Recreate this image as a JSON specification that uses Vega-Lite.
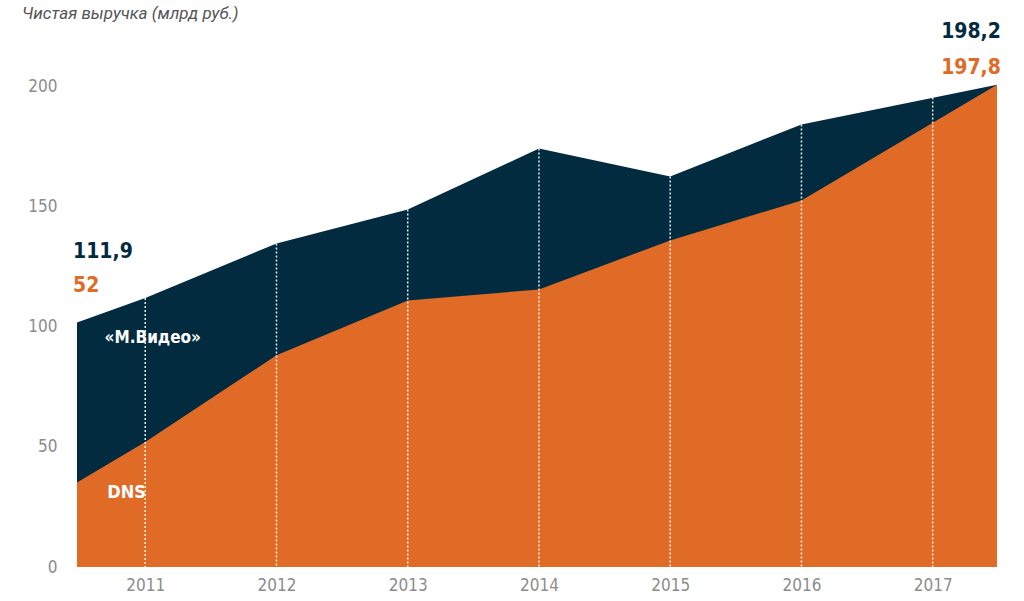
{
  "$schema": "https://vega.github.io/schema/vega-lite/v6.json",
  "width": 920,
  "height": 481,
  "autosize": {"type": "none"},
  "padding": {"left": 77, "top": 86, "right": 27, "bottom": 34},
  "background": "white",
  "config": {"view": {"stroke": null}, "font": "Roboto"},
  "title": {
    "text": "Чистая выручка (млрд руб.)",
    "anchor": "start",
    "frame": "group",
    "dx": -55,
    "offset": -19,
    "baseline": "bottom",
    "font": "Roboto",
    "fontStyle": "italic",
    "fontWeight": "normal",
    "fontSize": 17,
    "color": "#555555"
  },
  "datasets": {
    "revenue": [
      {"year": 2010.48, "mvideo": 101.7, "dns": 35.1},
      {"year": 2011, "mvideo": 111.9, "dns": 52},
      {"year": 2012, "mvideo": 134.5, "dns": 88},
      {"year": 2013, "mvideo": 148.6, "dns": 110.8},
      {"year": 2014, "mvideo": 174, "dns": 115.4},
      {"year": 2015, "mvideo": 162.4, "dns": 135.8},
      {"year": 2016, "mvideo": 184, "dns": 152.4},
      {"year": 2017.49, "mvideo": 200.5, "dns": 200.5}
    ],
    "gridlines": [
      {"year": 2011, "top": 111.9},
      {"year": 2012, "top": 134.5},
      {"year": 2013, "top": 148.6},
      {"year": 2014, "top": 174},
      {"year": 2015, "top": 162.4},
      {"year": 2016, "top": 184},
      {"year": 2017, "top": 195.2}
    ],
    "labels": [
      {"label": "111,9", "series": "М.Видео", "year": 2011},
      {"label": "52", "series": "DNS", "year": 2011},
      {"label": "198,2", "series": "М.Видео", "year": 2017},
      {"label": "197,8", "series": "DNS", "year": 2017},
      {"label": "«М.Видео»", "series": "name", "year": 0},
      {"label": "DNS", "series": "name", "year": 1}
    ]
  },
  "layer": [
    {
      "data": {"name": "revenue"},
      "mark": {"type": "area", "color": "#032b40", "interpolate": "linear"},
      "encoding": {
        "x": {
          "field": "year", "type": "quantitative",
          "scale": {"domain": [2010.48, 2017.49], "nice": false, "zero": false},
          "axis": {
            "values": [2011, 2012, 2013, 2014, 2015, 2016, 2017],
            "format": "d", "title": null, "grid": false, "domain": false, "ticks": false,
            "labelFont": "DejaVu Sans Condensed, Roboto", "labelFontWeight": "normal", "labelFontSize": 17, "labelColor": "#8c8c8c",
            "labelPadding": 10
          }
        },
        "y": {
          "field": "mvideo", "type": "quantitative",
          "scale": {"domain": [0, 200], "nice": false},
          "axis": {
            "values": [0, 50, 100, 150, 200],
            "title": null, "grid": false, "domain": false, "ticks": false,
            "labelFont": "DejaVu Sans Condensed, Roboto", "labelFontWeight": "normal", "labelFontSize": 17, "labelColor": "#8c8c8c",
            "labelPadding": 20
          }
        }
      }
    },
    {
      "data": {"name": "revenue"},
      "mark": {"type": "area", "color": "#e06b27", "interpolate": "linear"},
      "encoding": {
        "x": {"field": "year", "type": "quantitative"},
        "y": {"field": "dns", "type": "quantitative"}
      }
    },
    {
      "data": {"name": "gridlines"},
      "mark": {"type": "rule", "color": "white", "strokeWidth": 1.5, "strokeDash": [2, 2], "opacity": 0.9},
      "encoding": {
        "x": {"field": "year", "type": "quantitative"},
        "y": {"field": "top", "type": "quantitative"},
        "y2": {"datum": 0}
      }
    },
    {
      "data": {"name": "labels"},
      "transform": [{"filter": "datum.label === '111,9'"}],
      "mark": {"type": "text", "align": "left", "baseline": "middle", "font": "DejaVu Sans Condensed, Roboto", "fontWeight": "bold", "fontSize": 21, "color": "#032b40"},
      "encoding": {"x": {"datum": 2010.45, "type": "quantitative"}, "y": {"datum": 130.8, "type": "quantitative"}, "text": {"field": "label", "type": "nominal"}}
    },
    {
      "data": {"name": "labels"},
      "transform": [{"filter": "datum.label === '52'"}],
      "mark": {"type": "text", "align": "left", "baseline": "middle", "font": "DejaVu Sans Condensed, Roboto", "fontWeight": "bold", "fontSize": 21, "color": "#e06b27"},
      "encoding": {"x": {"datum": 2010.45, "type": "quantitative"}, "y": {"datum": 117, "type": "quantitative"}, "text": {"field": "label", "type": "nominal"}}
    },
    {
      "data": {"name": "labels"},
      "transform": [{"filter": "datum.label === '198,2'"}],
      "mark": {"type": "text", "align": "right", "baseline": "middle", "font": "DejaVu Sans Condensed, Roboto", "fontWeight": "bold", "fontSize": 21, "color": "#032b40"},
      "encoding": {"x": {"datum": 2017.52, "type": "quantitative"}, "y": {"datum": 222.3, "type": "quantitative"}, "text": {"field": "label", "type": "nominal"}}
    },
    {
      "data": {"name": "labels"},
      "transform": [{"filter": "datum.label === '197,8'"}],
      "mark": {"type": "text", "align": "right", "baseline": "middle", "font": "DejaVu Sans Condensed, Roboto", "fontWeight": "bold", "fontSize": 21, "color": "#e06b27"},
      "encoding": {"x": {"datum": 2017.52, "type": "quantitative"}, "y": {"datum": 207.3, "type": "quantitative"}, "text": {"field": "label", "type": "nominal"}}
    },
    {
      "data": {"name": "labels"},
      "transform": [{"filter": "datum.label === '«М.Видео»'"}],
      "mark": {"type": "text", "align": "left", "baseline": "middle", "font": "DejaVu Sans Condensed, Roboto", "fontWeight": "bold", "fontSize": 17, "color": "white"},
      "encoding": {"x": {"datum": 2010.69, "type": "quantitative"}, "y": {"datum": 95.4, "type": "quantitative"}, "text": {"field": "label", "type": "nominal"}}
    },
    {
      "data": {"name": "labels"},
      "transform": [{"filter": "datum.label === 'DNS'"}],
      "mark": {"type": "text", "align": "left", "baseline": "middle", "font": "DejaVu Sans Condensed, Roboto", "fontWeight": "bold", "fontSize": 18, "color": "white"},
      "encoding": {"x": {"datum": 2010.71, "type": "quantitative"}, "y": {"datum": 30.6, "type": "quantitative"}, "text": {"field": "label", "type": "nominal"}}
    }
  ]
}
